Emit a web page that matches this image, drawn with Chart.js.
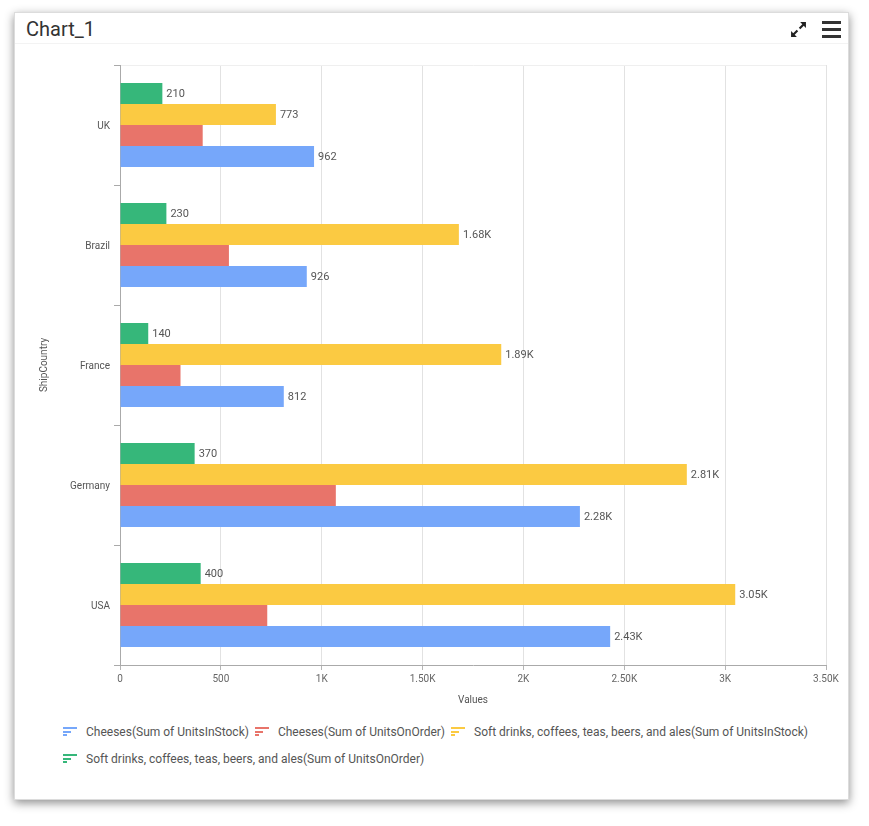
<!DOCTYPE html>
<html>
<head>
<meta charset="utf-8">
<script src="https://cdn.jsdelivr.net/npm/chart.js@4"></script>
<style>
  body { margin: 0; background: #fff; font-family: Roboto, sans-serif; }
  #card {
    position: absolute; left: 14px; top: 12px; width: 833px; height: 786px;
    border: 1px solid #dcdcdc; background: #fff;
    box-shadow: 0 3px 9px rgba(0,0,0,0.45);
  }
  #title { position: absolute; left: 11px; top: 4px; font-size: 20px; color: #333; }
  #sep { position: absolute; left: 0; right: 0; top: 30px; height: 1px; background: #f3f3f3; }
  #expand { position: absolute; left: 775px; top: 8px; }
  #menu { position: absolute; left: 807px; top: 8px; width: 19px; }
  #menu div { height: 3px; background: #333; margin-bottom: 4px; }
  #wrap { position: absolute; left: 0; top: 32px; width: 833px; height: 670px; }
  #legend { position: absolute; left: 48px; top: 705px; width: 780px; font-size: 12px; color: #555; }
  .item { display: inline-flex; align-items: center; height: 27px; margin-right: 6px; white-space: nowrap; }
  .icon { width: 15px; margin-right: 8px; }
  .icon div { height: 2px; margin: 1.5px 0; }
</style>
</head>
<body>
<div id="card">
  <div id="title">Chart_1</div>
  <div id="sep"></div>
  <svg id="expand" width="17" height="17" viewBox="0 0 16 16">
    <polygon points="1,15 1,9.5 6.5,15" fill="#222"/>
    <line x1="3" y1="13" x2="7" y2="9" stroke="#222" stroke-width="2"/>
    <polygon points="15,1 9.5,1 15,6.5" fill="#222"/>
    <line x1="13" y1="3" x2="9" y2="7" stroke="#222" stroke-width="2"/>
  </svg>
  <div id="menu"><div></div><div></div><div></div></div>
  <div id="wrap"><canvas id="barChart"></canvas></div>
  <div id="legend"></div>
</div>
<script>
const countries = ['UK', 'Brazil', 'France', 'Germany', 'USA'];

const cheesesInStock = [962, 926, 812, 2280, 2430];
const cheesesOnOrder = [410, 540, 300, 1070, 730];
const drinksInStock = [773, 1680, 1890, 2810, 3050];
const drinksOnOrder = [210, 230, 140, 370, 400];

const seriesNames = [
    'Cheeses(Sum of UnitsInStock)',
    'Cheeses(Sum of UnitsOnOrder)',
    'Soft drinks, coffees, teas, beers, and ales(Sum of UnitsInStock)',
    'Soft drinks, coffees, teas, beers, and ales(Sum of UnitsOnOrder)'
];
const seriesColors = ['#76a7fa', '#e8746a', '#fbca42', '#36b77a'];
const showValues = [true, false, true, true];

const xTicks = [0, 500, 1000, 1500, 2000, 2500, 3000, 3500];

function fmt(v) {
    if (v >= 1000) {
        let s = (v / 1000).toFixed(2);
        if (s.endsWith('.00')) s = s.slice(0, -3);
        return s + 'K';
    }
    return String(v);
}

// top-to-bottom bar order inside each category is the reverse of the legend order
const allValues = [cheesesInStock, cheesesOnOrder, drinksInStock, drinksOnOrder];
const datasets = [3, 2, 1, 0].map(i => ({
    label: seriesNames[i],
    data: allValues[i],
    backgroundColor: seriesColors[i],
    showValue: showValues[i],
    categoryPercentage: 0.7,
    barPercentage: 1.0
}));

const valueLabels = {
    id: 'valueLabels',
    afterDatasetsDraw(chart) {
        const c = chart.ctx;
        c.save();
        c.font = '11px Roboto';
        c.fillStyle = '#555';
        c.textBaseline = 'middle';
        chart.data.datasets.forEach((ds, di) => {
            if (!ds.showValue) return;
            chart.getDatasetMeta(di).data.forEach((bar, j) => {
                c.fillText(fmt(ds.data[j]), bar.x + 4, bar.y + 1);
            });
        });
        c.restore();
    }
};

const ctx = document.getElementById('barChart').getContext('2d');
const myChart = new Chart(ctx, {
    type: 'bar',
    data: { labels: countries, datasets: datasets },
    plugins: [valueLabels],
    options: {
        indexAxis: 'y',
        responsive: true,
        maintainAspectRatio: false,
        animation: false,
        layout: { padding: { top: 20, right: 22, left: 0, bottom: 0 } },
        plugins: { legend: { display: false }, tooltip: { enabled: false } },
        scales: {
            x: {
                min: 0,
                max: 3500,
                afterFit: s => { s.height = 50; },
                afterBuildTicks: s => { s.ticks = xTicks.map(v => ({ value: v })); },
                ticks: { font: { family: 'Roboto', size: 10 }, color: '#666', padding: 3, maxRotation: 0, callback: v => fmt(v) },
                grid: { color: '#e2e2e2', tickColor: '#b5b5b5', tickLength: 5 },
                border: { color: '#aaa' },
                title: { display: true, text: 'Values', font: { family: 'Roboto', size: 10 }, color: '#555', padding: { bottom: 9 } }
            },
            y: {
                afterFit: s => { s.width = 105; },
                ticks: { font: { family: 'Roboto', size: 10 }, color: '#555', padding: 4, labelOffset: 1 },
                grid: {
                    offset: true,
                    color: c => c.index === 0 ? '#efefef' : 'rgba(0,0,0,0)',
                    tickColor: '#aaa',
                    tickLength: 6
                },
                border: { color: '#aaa' },
                title: { display: true, text: 'ShipCountry', font: { family: 'Roboto', size: 10 }, color: '#555', padding: { top: 23 } }
            }
        }
    }
});

// legend in series order
const legend = document.getElementById('legend');
seriesNames.forEach((name, i) => {
    const item = document.createElement('span');
    item.className = 'item';
    item.innerHTML = '<span class="icon">' +
        [14, 8, 4].map(w => '<div style="width:' + w + 'px;background:' + seriesColors[i] + '"></div>').join('') +
        '</span>' + name;
    legend.appendChild(item);
});
</script>
</body>
</html>
